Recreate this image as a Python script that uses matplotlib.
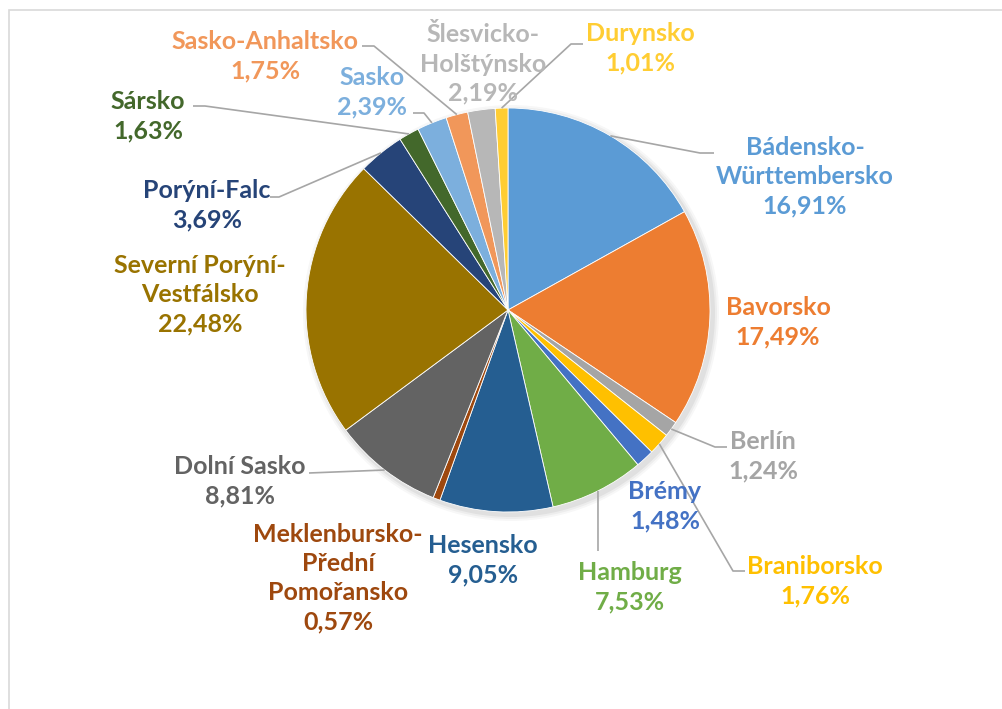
import matplotlib
matplotlib.use("Agg")
import matplotlib.pyplot as plt
from matplotlib.patches import Rectangle, Circle
import numpy as np

labels = ["Bádensko-\nWürttembersko", "Bavorsko", "Berlín", "Braniborsko", "Brémy",
          "Hamburg", "Hesensko", "Meklenbursko-\nPřední\nPomořansko", "Dolní Sasko",
          "Severní Porýní-\nVestfálsko", "Porýní-Falc", "Sársko", "Sasko",
          "Sasko-Anhaltsko", "Šlesvicko-\nHolštýnsko", "Durynsko"]
values = [16.91, 17.49, 1.24, 1.76, 1.48, 7.53, 9.05, 0.57, 8.81, 22.48, 3.69,
          1.63, 2.39, 1.75, 2.19, 1.01]
colors = ["#5B9BD5", "#ED7D31", "#A5A5A5", "#FFC000", "#4472C4", "#70AD47",
          "#255E91", "#9E480E", "#636363", "#997300", "#264478", "#43682B",
          "#7CAFDD", "#F1975A", "#B7B7B7", "#FFCD33"]

W, H = 1002, 709
fig = plt.figure(figsize=(W / 100, H / 100), dpi=100)
ax = fig.add_axes([0, 0, 1, 1])

cx, cy, R = 508, 310, 202

# soft shadow
for k, a in [(6, 0.03), (4, 0.04), (2, 0.05)]:
    ax.add_patch(Circle((cx + 3, cy + 3), R + k, color="black", alpha=a, lw=0, zorder=0))

wedges, _ = ax.pie(values, colors=colors, startangle=-90, counterclock=True,
                   center=(cx, cy), radius=R,
                   wedgeprops=dict(edgecolor="white", linewidth=0.6))
ax.set_xlim(0, W)
ax.set_ylim(H, 0)
ax.set_aspect("equal")
ax.axis("off")

label_pos = {
    0: (805, 177), 1: (778, 322), 2: (763, 456), 3: (815, 581), 4: (665, 506),
    5: (630, 587), 6: (483, 560), 7: (338, 578), 8: (240, 481), 9: (200, 295),
    10: (207, 205), 11: (148, 116), 12: (372, 92), 13: (265, 56), 14: (483, 64),
    15: (640, 48),
}
leaders = {
    0: [(714, 153), (700, 153)],
    2: [(727, 447), (715, 447)],
    3: [(745, 571), (733, 571)],
    5: [(598, 551)],
    8: [(309, 473)],
    11: [(193, 106), (205, 106)],
    10: [(270, 197), (279, 197)],
    12: [(413, 113), (424, 113)],
    13: [(362, 46), (374, 46)],
    15: [(583, 44), (571, 44)],
}

for i, w in enumerate(wedges):
    pct = f"{values[i]:.2f}".replace(".", ",") + "%"
    x, y = label_pos[i]
    ax.text(x, y, f"{labels[i]}\n{pct}", ha="center", va="center",
            multialignment="center", color=colors[i], fontsize=18,
            fontweight="bold", family="Lato", linespacing=1.33, zorder=5)
    if i in leaders:
        mid = np.deg2rad((w.theta1 + w.theta2) / 2)
        ex, ey = cx + R * np.cos(mid), cy + R * np.sin(mid)
        pts = leaders[i] + [(ex, ey)]
        xs, ys = zip(*pts)
        ax.plot(xs, ys, color="#A6A6A6", lw=1.2, zorder=4, solid_capstyle="butt")

# chart border (partially visible)
fig.patches.append(Rectangle((8.5 / W, -0.1), 1.2, 1.1 - 9.5 / H, transform=fig.transFigure,
                             fill=False, edgecolor="#D9D9D9", lw=1.2))

fig.savefig("out.png", dpi=100)
